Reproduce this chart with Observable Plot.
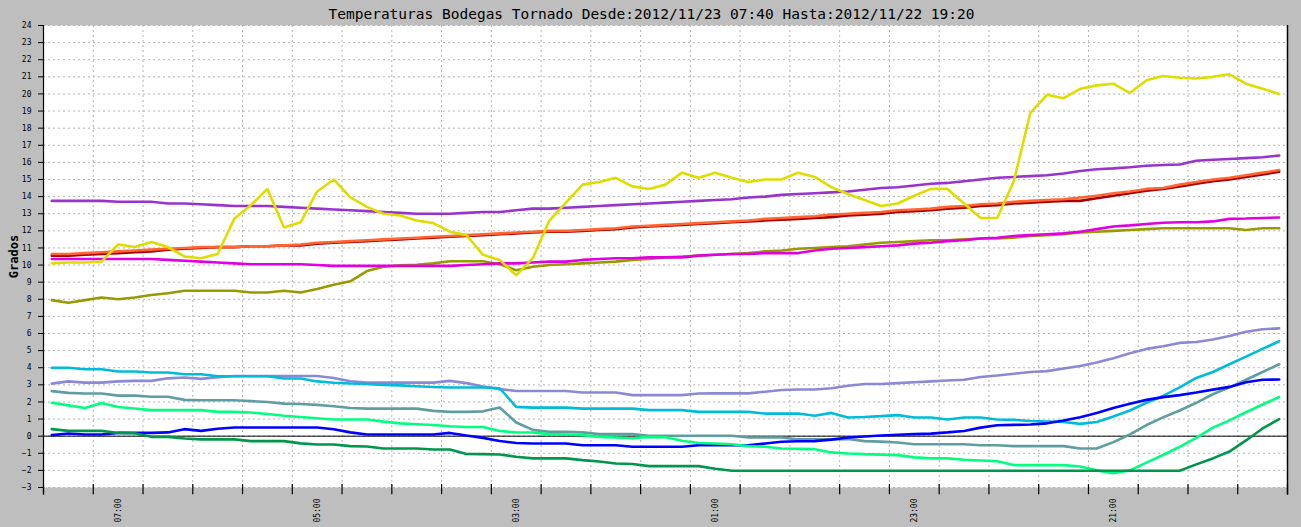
<!DOCTYPE html>
<html>
<head>
<meta charset="utf-8">
<script src="https://cdn.jsdelivr.net/npm/d3@7"></script>
<script src="https://cdn.jsdelivr.net/npm/@observablehq/plot@0.6"></script>
<style>
  html, body { margin: 0; padding: 0; background: #bebebe; }
  #chart svg { display: block; }
</style>
</head>
<body>
<div id="chart"></div>
<script>
const title = "Temperaturas Bodegas Tornado Desde:2012/11/23 07:40 Hasta:2012/11/22 19:20";
const yLabel = "Grados";

const times = [
  "07:40","07:30","07:20","07:10","07:00","06:50","06:40","06:30","06:20","06:10",
  "06:00","05:50","05:40","05:30","05:20","05:10","05:00","04:50","04:40","04:30",
  "04:20","04:10","04:00","03:50","03:40","03:30","03:20","03:10","03:00","02:50",
  "02:40","02:30","02:20","02:10","02:00","01:50","01:40","01:30","01:20","01:10",
  "01:00","00:50","00:40","00:30","00:20","00:10","00:00","23:50","23:40","23:30",
  "23:20","23:10","23:00","22:50","22:40","22:30","22:20","22:10","22:00","21:50",
  "21:40","21:30","21:20","21:10","21:00","20:50","20:40","20:30","20:20","20:10",
  "20:00","19:50","19:40","19:30","19:20"
];

const xTickLabels = ["07:00","05:00","03:00","01:00","23:00","21:00"];
const yTicks = [-3,-2,-1,0,1,2,3,4,5,6,7,8,9,10,11,12,13,14,15,16,17,18,19,20,21,22,23,24];

const yellow = [10.1,10.15,10.15,10.2,11.2,11.05,11.35,11.05,10.5,10.4,
  10.65,12.7,13.5,14.45,12.2,12.5,14.3,15.0,13.95,13.4,
  13.0,12.9,12.6,12.45,11.95,11.75,10.6,10.3,9.4,10.4,
  12.6,13.65,14.7,14.85,15.1,14.6,14.45,14.7,15.4,15.1,
  15.4,15.1,14.85,15.0,15.0,15.4,15.15,14.55,14.15,13.8,
  13.45,13.6,14.05,14.45,14.45,13.6,12.75,12.75,14.9,18.9,
  19.95,19.75,20.3,20.5,20.6,20.05,20.8,21.05,20.95,20.9,
  21.0,21.15,20.6,20.3,20.0];

const purple = [13.75,13.75,13.75,13.75,13.7,13.7,13.7,13.6,13.6,13.55,
  13.5,13.45,13.45,13.45,13.4,13.35,13.3,13.25,13.2,13.15,
  13.1,13.05,13.0,13.0,13.0,13.05,13.1,13.1,13.2,13.3,
  13.3,13.35,13.4,13.45,13.5,13.55,13.6,13.65,13.7,13.75,
  13.8,13.85,13.95,14.0,14.1,14.15,14.2,14.25,14.3,14.4,
  14.5,14.55,14.65,14.75,14.8,14.9,15.0,15.1,15.15,15.2,
  15.25,15.35,15.5,15.6,15.65,15.72,15.8,15.85,15.88,16.1,
  16.15,16.2,16.25,16.3,16.4];

const orange = [10.65,10.65,10.7,10.75,10.8,10.85,10.9,10.95,11.0,11.05,
  11.05,11.05,11.1,11.1,11.15,11.2,11.3,11.35,11.4,11.45,
  11.5,11.55,11.6,11.65,11.7,11.75,11.8,11.85,11.9,11.95,
  12.0,12.0,12.05,12.1,12.15,12.25,12.3,12.35,12.4,12.45,
  12.5,12.55,12.6,12.7,12.75,12.8,12.85,12.95,13.0,13.05,
  13.1,13.2,13.25,13.3,13.4,13.45,13.55,13.6,13.7,13.75,
  13.8,13.85,13.95,14.05,14.2,14.3,14.45,14.5,14.7,14.85,
  15.0,15.1,15.25,15.4,15.55];

const darkred = [10.55,10.55,10.6,10.65,10.7,10.75,10.8,10.9,10.95,11.0,
  11.05,11.05,11.1,11.1,11.15,11.15,11.25,11.3,11.35,11.4,
  11.45,11.5,11.55,11.6,11.65,11.7,11.75,11.8,11.85,11.9,
  11.95,11.95,12.0,12.05,12.1,12.2,12.25,12.3,12.35,12.4,
  12.45,12.5,12.55,12.6,12.65,12.7,12.75,12.8,12.9,12.95,
  13.0,13.1,13.15,13.2,13.3,13.35,13.45,13.5,13.6,13.65,
  13.7,13.75,13.75,13.9,14.05,14.2,14.35,14.45,14.6,14.75,
  14.9,15.0,15.15,15.3,15.45];

const magenta = [10.35,10.35,10.35,10.35,10.35,10.35,10.35,10.3,10.25,10.2,
  10.15,10.1,10.05,10.05,10.05,10.05,10.0,9.95,9.95,9.95,
  9.95,9.95,9.95,9.95,9.95,10.0,10.05,10.1,10.1,10.15,
  10.2,10.2,10.3,10.35,10.4,10.4,10.45,10.45,10.45,10.55,
  10.6,10.65,10.65,10.7,10.7,10.7,10.85,10.95,11.0,11.05,
  11.1,11.15,11.25,11.3,11.4,11.45,11.55,11.6,11.7,11.75,
  11.8,11.85,11.95,12.1,12.25,12.32,12.4,12.47,12.5,12.5,
  12.55,12.7,12.72,12.75,12.78];

const olive = [7.95,7.8,7.95,8.1,8.0,8.1,8.25,8.35,8.5,8.5,
  8.5,8.5,8.4,8.4,8.5,8.4,8.6,8.85,9.05,9.65,
  9.9,9.98,10.02,10.1,10.22,10.22,10.22,10.05,9.7,9.9,
  10.0,10.05,10.1,10.15,10.2,10.3,10.35,10.45,10.5,10.55,
  10.6,10.65,10.7,10.8,10.85,10.95,11.0,11.05,11.1,11.2,
  11.3,11.35,11.4,11.45,11.45,11.5,11.55,11.55,11.6,11.7,
  11.75,11.8,11.9,11.95,12.0,12.05,12.1,12.15,12.15,12.15,
  12.15,12.15,12.05,12.15,12.15];

const cyan = [4.0,4.0,3.91,3.91,3.78,3.78,3.72,3.72,3.62,3.62,
  3.5,3.5,3.5,3.5,3.37,3.37,3.2,3.12,3.08,3.05,
  3.0,2.97,2.92,2.87,2.84,2.84,2.84,2.8,1.71,1.67,
  1.67,1.67,1.61,1.61,1.61,1.61,1.52,1.52,1.52,1.42,
  1.42,1.42,1.42,1.32,1.32,1.32,1.19,1.36,1.09,1.12,
  1.17,1.23,1.09,1.09,0.97,1.09,1.09,0.97,0.95,0.89,
  0.86,0.83,0.72,0.83,1.15,1.5,1.95,2.35,2.85,3.4,
  3.75,4.2,4.65,5.1,5.55];

const lavender = [3.07,3.2,3.13,3.13,3.2,3.23,3.23,3.38,3.43,3.35,
  3.45,3.52,3.52,3.52,3.52,3.52,3.52,3.4,3.21,3.13,
  3.13,3.13,3.13,3.13,3.23,3.1,2.9,2.75,2.64,2.64,
  2.64,2.64,2.55,2.55,2.55,2.4,2.4,2.4,2.4,2.49,
  2.5,2.5,2.5,2.6,2.7,2.73,2.73,2.8,2.95,3.05,
  3.05,3.1,3.15,3.2,3.25,3.3,3.46,3.55,3.65,3.75,
  3.8,3.95,4.1,4.3,4.55,4.85,5.1,5.25,5.45,5.5,
  5.65,5.85,6.1,6.25,6.3];

const teal = [2.63,2.53,2.49,2.49,2.37,2.37,2.3,2.3,2.12,2.1,
  2.1,2.1,2.05,2.0,1.9,1.88,1.83,1.75,1.65,1.61,
  1.61,1.61,1.61,1.48,1.42,1.42,1.45,1.68,0.8,0.37,
  0.25,0.25,0.22,0.12,0.12,0.12,0.02,0.02,0.02,0.02,
  0.02,0.02,-0.08,-0.08,-0.08,-0.19,-0.19,-0.19,-0.17,-0.29,
  -0.32,-0.37,-0.47,-0.47,-0.47,-0.47,-0.53,-0.53,-0.58,-0.58,
  -0.58,-0.58,-0.72,-0.72,-0.35,0.1,0.65,1.1,1.5,1.95,
  2.45,2.85,3.3,3.75,4.2];

const spring = [1.95,1.8,1.65,1.94,1.7,1.62,1.52,1.52,1.52,1.52,
  1.42,1.42,1.38,1.3,1.19,1.12,1.05,0.97,0.97,0.97,
  0.85,0.75,0.7,0.65,0.58,0.54,0.54,0.3,0.22,0.21,
  0.12,0.1,0.06,-0.04,-0.08,-0.12,-0.04,-0.06,-0.27,-0.4,
  -0.43,-0.47,-0.58,-0.62,-0.72,-0.74,-0.76,-0.95,-1.01,-1.05,
  -1.08,-1.11,-1.24,-1.3,-1.3,-1.38,-1.42,-1.46,-1.69,-1.69,
  -1.69,-1.69,-1.77,-2.0,-2.17,-2.0,-1.55,-1.1,-0.62,-0.1,
  0.5,0.92,1.4,1.85,2.29];

const blue = [0.06,0.16,0.1,0.1,0.19,0.19,0.19,0.22,0.41,0.31,
  0.43,0.51,0.51,0.51,0.51,0.51,0.51,0.4,0.22,0.1,
  0.1,0.1,0.1,0.1,0.19,0.04,-0.1,-0.28,-0.4,-0.43,
  -0.43,-0.43,-0.53,-0.53,-0.53,-0.62,-0.62,-0.62,-0.62,-0.53,
  -0.53,-0.53,-0.53,-0.43,-0.33,-0.3,-0.29,-0.2,-0.08,-0.02,
  0.04,0.08,0.12,0.15,0.22,0.3,0.5,0.64,0.66,0.68,
  0.75,0.92,1.1,1.35,1.65,1.9,2.12,2.28,2.4,2.55,
  2.72,2.88,3.15,3.3,3.31];

const darkgreen = [0.41,0.31,0.31,0.31,0.19,0.17,-0.04,-0.04,-0.14,-0.19,
  -0.19,-0.19,-0.29,-0.29,-0.29,-0.42,-0.49,-0.49,-0.58,-0.6,
  -0.72,-0.72,-0.72,-0.78,-0.78,-1.04,-1.05,-1.07,-1.2,-1.3,
  -1.3,-1.3,-1.4,-1.48,-1.6,-1.63,-1.75,-1.75,-1.75,-1.75,
  -1.9,-2.02,-2.02,-2.02,-2.02,-2.02,-2.02,-2.02,-2.02,-2.02,
  -2.02,-2.02,-2.02,-2.02,-2.02,-2.02,-2.02,-2.02,-2.02,-2.02,
  -2.02,-2.02,-2.02,-2.02,-2.02,-2.02,-2.02,-2.02,-2.02,-1.65,
  -1.3,-0.9,-0.25,0.45,1.0];

// draw order and colours
const series = [
  {values: teal, color: "#5f9ea0"},
  {values: lavender, color: "#8b88d6"},
  {values: cyan, color: "#00bcd8"},
  {values: blue, color: "#0000ff"},
  {values: spring, color: "#00ff80"},
  {values: darkgreen, color: "#00964b"},
  {values: olive, color: "#999900"},
  {values: magenta, color: "#e000e0"},
  {values: darkred, color: "#aa0000"},
  {values: orange, color: "#ff6633"},
  {values: purple, color: "#9933cc"},
  {values: yellow, color: "#dddd00"}
];

const toDate = s => {
  const [h, m] = s.split(":").map(Number);
  return new Date(Date.UTC(2012, 10, h >= 12 ? 22 : 23, h, m));
};
const tDates = times.map(toDate);

const xStart = new Date(Date.UTC(2012, 10, 23, 7, 45));
const xEnd = new Date(Date.UTC(2012, 10, 22, 19, 15));
const tickTimes = d3.range(26).map(k => new Date(xStart.getTime() - k * 30 * 60000));
const gridTimes = tickTimes.slice(1, -1);
const labelDates = xTickLabels.map(toDate);

const lineMarks = series.map(s =>
  Plot.line(s.values.map((v, i) => ({t: tDates[i], v})), {
    x: "t", y: "v", stroke: s.color, strokeWidth: 2.6, strokeLinejoin: "miter"
  })
);

const chart = Plot.plot({
  width: 1301,
  height: 527,
  marginLeft: 43,
  marginRight: 14,
  marginTop: 25,
  marginBottom: 40,
  style: {background: "#bebebe", fontFamily: "DejaVu Sans Mono", fontSize: "8px", color: "black"},
  x: {type: "utc", domain: [xStart, xEnd], axis: null},
  y: {domain: [-3, 24], axis: null},
  marks: [
    Plot.frame({fill: "white", stroke: "none"}),
    Plot.gridY(yTicks, {stroke: "#b4b4b4", strokeOpacity: 1, strokeDasharray: "2,3"}),
    Plot.gridX(gridTimes, {stroke: "#b4b4b4", strokeOpacity: 1, strokeDasharray: "2,3"}),
    Plot.ruleY([0], {stroke: "black", strokeWidth: 1}),
    ...lineMarks,
    Plot.ruleX([xStart], {y1: -3.45, y2: 24, stroke: "black", strokeWidth: 1.2}),
    Plot.ruleX([xEnd], {y1: -3.45, y2: 24, stroke: "black", strokeWidth: 1.5}),
    Plot.ruleX(tickTimes, {y1: -2.83, y2: -3.42, stroke: "black", strokeWidth: 1.2}),
    Plot.axisY(yTicks, {tickSize: 5, tickPadding: 7, label: null, fontSize: 8, fontFamily: "DejaVu Sans Mono"}),
    Plot.text(labelDates, {x: d => d, frameAnchor: "bottom", dy: 11, rotate: -90, textAnchor: "end",
      lineAnchor: "middle", text: d => d3.utcFormat("%H:%M")(d), fontSize: 8, fontFamily: "DejaVu Sans Mono", fill: "black"}),
    Plot.text([yLabel], {frameAnchor: "left", dx: -29, rotate: -90, textAnchor: "middle", lineAnchor: "middle",
      fontSize: 12, fontWeight: "bold", fontFamily: "DejaVu Sans Mono", fill: "black"}),
    Plot.text([title], {frameAnchor: "top", dx: -14, dy: -11, textAnchor: "middle", lineAnchor: "middle",
      fontSize: 14.5, fontFamily: "DejaVu Sans Mono", fill: "black"})
  ]
});
document.getElementById("chart").appendChild(chart);
</script>
</body>
</html>
